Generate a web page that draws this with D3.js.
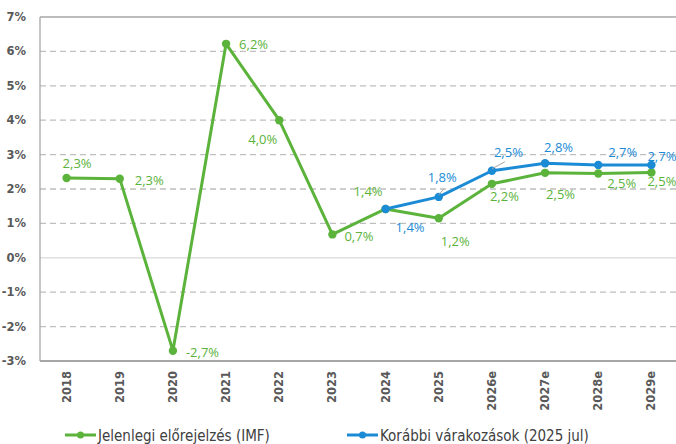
<!DOCTYPE html>
<html lang="hu">
<head>
<meta charset="utf-8">
<style>
  body { margin: 0; background: #fff; }
  svg { display: block; }
  .grid line { stroke: #bfbfbf; stroke-width: 1.3px; stroke-dasharray: 6 4; }
  .ytick text { font-family: "DejaVu Sans", Verdana, sans-serif; font-weight: bold; font-size: 11.5px; fill: #595959; }
  .xtick text { font-family: "DejaVu Sans", Verdana, sans-serif; font-weight: bold; font-size: 11.5px; fill: #595959; }
  .lbl { font-family: "Open Sans", sans-serif; font-size: 13px; }
  .legend text { font-family: "Liberation Sans Narrow", "DejaVu Sans Condensed", sans-serif; font-size: 15px; fill: #404040; }
</style>
<script src="https://cdn.jsdelivr.net/npm/d3@7"></script>
</head>
<body>
<script>
var years = ["2018","2019","2020","2021","2022","2023","2024","2025","2026e","2027e","2028e","2029e"];
var imf = [2.32, 2.3, -2.7, 6.22, 4.0, 0.68, 1.42, 1.15, 2.15, 2.47, 2.45, 2.48];
var imfLabels = ["2,3%","2,3%","-2,7%","6,2%","4,0%","0,7%","1,4%","1,2%","2,2%","2,5%","2,5%","2,5%"];
var prev = [null, null, null, null, null, null, 1.42, 1.77, 2.53, 2.75, 2.7, 2.7];
var prevLabels = ["","","","","","","1,4%","1,8%","2,5%","2,8%","2,7%","2,7%"];
var yTicks = [-3, -2, -1, 0, 1, 2, 3, 4, 5, 6, 7];
var seriesNames = ["Jelenlegi előrejelzés (IMF)", "Korábbi várakozások (2025 jul)"];

// label offsets (dx, dy) from the point, to the label's left baseline
var imfOff = [[-4,-10],[15,6],[13,6],[13,5],[-31,24],[12,7],[-32,-13],[2,28],[-2,17],[1,26],[9,14],[-4,14]];
var prevOff = [null,null,null,null,null,null,[10,23],[-11,-15],[2,-14],[-1,-11],[10,-8],[-4,-4]];

var green = "#5bb33b", blue = "#1c8bd6";
var W = 676, H = 444;
var m = { left: 40, top: 17, right: -2, bottom: 83 };

var svg = d3.select("body").append("svg").attr("width", W).attr("height", H);

var x = d3.scaleBand().domain(years).range([m.left, W - m.right]);
var y = d3.scaleLinear().domain([-3, 7]).range([H - m.bottom, m.top]);
var cx = function(i) { return x(years[i]) + x.bandwidth() / 2; };

// grid
svg.append("g").attr("class", "grid")
  .selectAll("line").data(yTicks.filter(function(d) { return d !== -3 && d !== 7 && d !== 0; }))
  .enter().append("line")
  .attr("x1", m.left).attr("x2", W).attr("y1", function(d) { return y(d); }).attr("y2", function(d) { return y(d); });

svg.append("line").attr("x1", m.left).attr("x2", W).attr("y1", y(0)).attr("y2", y(0))
  .attr("stroke", "#d9d9d9").attr("stroke-width", 1.3);
svg.append("line").attr("x1", m.left).attr("x2", W).attr("y1", y(7)).attr("y2", y(7))
  .attr("stroke", "#a6a6a6").attr("stroke-width", 1.3);
svg.append("line").attr("x1", m.left).attr("x2", m.left).attr("y1", y(7)).attr("y2", y(-3))
  .attr("stroke", "#a6a6a6").attr("stroke-width", 1.3);
svg.append("line").attr("x1", m.left).attr("x2", W).attr("y1", y(-3)).attr("y2", y(-3))
  .attr("stroke", "#a6a6a6").attr("stroke-width", 2);

// y labels
svg.append("g").attr("class", "ytick").selectAll("text").data(yTicks).enter().append("text")
  .attr("x", 26).attr("y", function(d) { return y(d) + 4; }).attr("text-anchor", "end")
  .text(function(d) { return d + "%"; });

// x labels
svg.append("g").attr("class", "xtick").selectAll("text").data(years).enter().append("text")
  .attr("transform", function(d, i) { return "translate(" + (cx(i) + 4) + "," + (y(-3) + 10) + ") rotate(-90)"; })
  .attr("text-anchor", "end")
  .text(function(d) { return d; });

var line = d3.line()
  .defined(function(d) { return d != null; })
  .x(function(d, i) { return cx(i); })
  .y(function(d) { return y(d); });

function drawSeries(vals, color) {
  svg.append("path").datum(vals).attr("d", line).attr("fill", "none")
    .attr("stroke", color).attr("stroke-width", 3).attr("stroke-linejoin", "round");
  vals.forEach(function(d, i) {
    if (d == null) return;
    svg.append("circle").attr("cx", cx(i)).attr("cy", y(d)).attr("r", 4.2).attr("fill", color);
  });
}

drawSeries(imf, green);
drawSeries(prev, blue);

// leader lines for blue labels 2025, 2026e
[[7, 5, 6], [8, 13, 7]].forEach(function(p) {
  var i = p[0];
  svg.append("line").attr("x1", cx(i)).attr("y1", y(prev[i]) - 2)
    .attr("x2", cx(i) + p[1]).attr("y2", y(prev[i]) - 2 - p[2])
    .attr("stroke", "#a6a6a6").attr("stroke-width", 1);
});

imf.forEach(function(d, i) {
  svg.append("text").attr("class", "lbl").attr("fill", green)
    .attr("x", cx(i) + imfOff[i][0]).attr("y", y(d) + imfOff[i][1]).text(imfLabels[i]);
});
prev.forEach(function(d, i) {
  if (d == null) return;
  svg.append("text").attr("class", "lbl").attr("fill", blue)
    .attr("x", cx(i) + prevOff[i][0]).attr("y", y(d) + prevOff[i][1]).text(prevLabels[i]);
});

// legend
var lg = svg.append("g").attr("class", "legend");
[[65, green], [347, blue]].forEach(function(p, k) {
  var g = lg.append("g").attr("transform", "translate(" + p[0] + ",435)");
  g.append("line").attr("x1", 0).attr("x2", 31).attr("stroke", p[1]).attr("stroke-width", 3);
  g.append("circle").attr("cx", 15.5).attr("r", 3.5).attr("fill", p[1]);
  g.append("text").attr("x", 33).attr("y", 5.5).text(seriesNames[k]);
});
</script>
</body>
</html>
